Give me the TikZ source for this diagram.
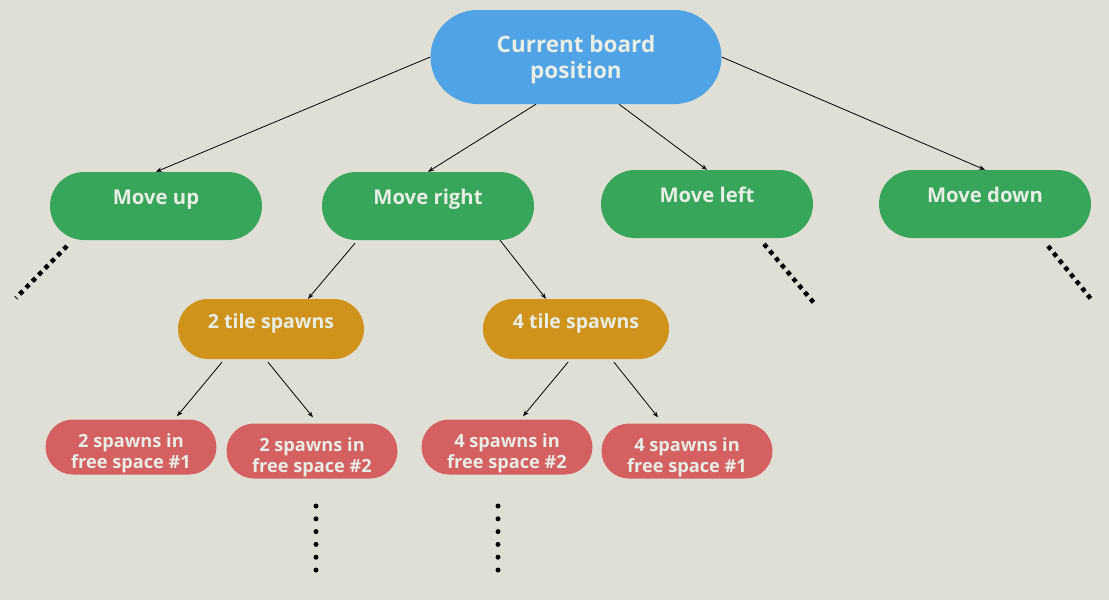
\documentclass[tikz,border=0pt]{standalone}
\usepackage{fontspec}
\setmainfont{Open Sans}
\usetikzlibrary{arrows.meta, calc}
\definecolor{bgc}{HTML}{E0DFD6}
\definecolor{rootc}{HTML}{50A3E4}
\definecolor{movec}{HTML}{38A65A}
\definecolor{tilec}{HTML}{CF931C}
\definecolor{spawnc}{HTML}{D56062}
\definecolor{txtc}{HTML}{E8EEE6}

\begin{document}
\begin{tikzpicture}[x=1pt, y=-1pt,
  box/.style={rectangle, text=txtc, align=center, inner sep=0pt, font=\bfseries},
  rootbox/.style={box, fill=rootc, minimum width=291pt, minimum height=94pt, rounded corners=47pt, text height=48pt, text depth=6pt, font=\bfseries\fontsize{22.5}{26}\selectfont},
  movebox/.style={box, fill=movec, minimum width=212pt, minimum height=68pt, rounded corners=34pt, text height=14pt, text depth=18pt, font=\bfseries\fontsize{20.3}{24}\selectfont},
  tilebox/.style={box, fill=tilec, minimum width=186pt, minimum height=60pt, rounded corners=30pt, text height=14pt, text depth=16pt, font=\bfseries\fontsize{19.5}{22}\selectfont},
  spawnbox/.style={box, fill=spawnc, minimum width=171pt, minimum height=55pt, rounded corners=27.5pt, text height=47pt, text depth=5pt, font=\bfseries\fontsize{18.2}{21}\selectfont},
  arr/.style={-{Stealth[length=6pt, width=4.5pt]}, line width=0.8pt},
  more/.style={line width=4.5pt, dash pattern=on 4.5pt off 4.5pt},
  moredown/.style={line width=5pt, line cap=round, dash pattern=on 0pt off 12.8pt}]

\fill[bgc] (0,0) rectangle (1109,600);
\useasboundingbox (0,0) rectangle (1109,600);

\node[rootbox] (root) at (576,57) {Current board\\position};

\node[movebox] (up) at (156,206) {Move up};
\node[movebox] (right) at (428,206) {Move right};
\node[movebox] (left) at (707,204) {Move left};
\node[movebox] (down) at (985,204) {Move down};

\node[tilebox] (two) at (271,329) {2 tile spawns};
\node[tilebox] (four) at (576,329) {4 tile spawns};

\node[spawnbox] (twoa) at (131,447) {2 spawns in\\free space \#1};
\node[spawnbox] (twob) at (312,451) {2 spawns in\\free space \#2};
\node[spawnbox] (foura) at (507,447) {4 spawns in\\free space \#2};
\node[spawnbox] (fourb) at (687,451) {4 spawns in\\free space \#1};

\draw[arr] (root.west) -- (up.north);
\draw[arr] ($(root.south)+(-40,0)$) -- (right.north);
\draw[arr] ($(root.south)+(43,0)$) -- (left.north);
\draw[arr] (root.east) -- (down.north);

\draw[arr] ($(right.south)+(-73,3)$) -- ($(two.north)+(37,0)$);
\draw[arr] ($(right.south)+(72,0)$) -- ($(four.north)+(-30,0)$);

\draw[arr] ($(two.south)+(-49,3)$) -- ($(twoa.north)+(46,-3)$);
\draw[arr] ($(two.south)+(-3,3)$) -- ($(twob.north)+(1,-6)$);
\draw[arr] ($(four.south)+(-8,3)$) -- ($(foura.north)+(16,-3)$);
\draw[arr] ($(four.south)+(38,3)$) -- ($(fourb.north)+(-29,-6)$);

\coordinate (upa) at (67,246);
\coordinate (upb) at (16,298);
\coordinate (lefta) at (764,244);
\coordinate (leftb) at (814,303);
\coordinate (downa) at (1048,246);
\coordinate (downb) at (1091,299);
\draw[more] (upa) -- (upb);
\draw[more] (lefta) -- (leftb);
\draw[more] (downa) -- (downb);

\coordinate (twoc) at (316,506);
\coordinate (twod) at (316,572);
\coordinate (fourc) at (498,506);
\coordinate (fourd) at (498,572);
\draw[moredown] (twoc) -- (twod);
\draw[moredown] (fourc) -- (fourd);

\end{tikzpicture}
\end{document}
